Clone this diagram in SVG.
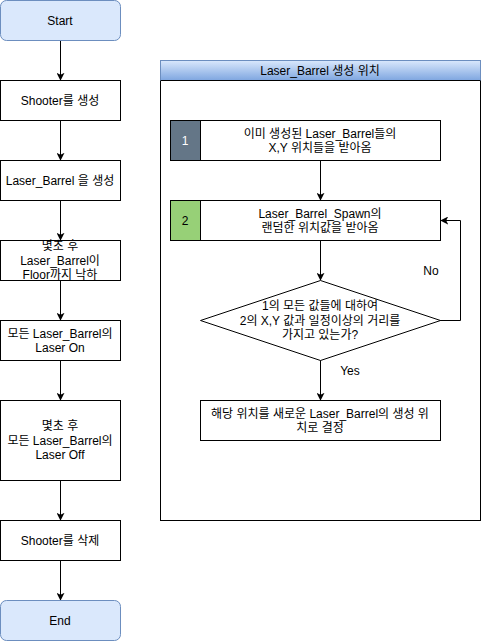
<svg xmlns="http://www.w3.org/2000/svg" width="481" height="641" viewBox="0 0 481 641">
<defs>
<linearGradient id="hdr" x1="0" y1="0" x2="0" y2="1">
<stop offset="0" stop-color="#dae8fc"/>
<stop offset="1" stop-color="#7ea6e0"/>
</linearGradient>
<marker id="arr" viewBox="0 0 10 10" refX="9" refY="5" markerWidth="8" markerHeight="8" markerUnits="userSpaceOnUse" orient="auto">
<path d="M0,0 L10,5 L0,10 L2.5,5 Z" fill="#000"/>
</marker>
</defs>
<style>
text{font-family:"Liberation Sans","Noto Sans CJK KR",Arial,sans-serif;font-size:12px;fill:#000;text-anchor:middle;dominant-baseline:central}
.box{fill:#fff;stroke:#000;stroke-width:1}
.term{fill:#dae8fc;stroke:#6c8ebf;stroke-width:1}
.edge{fill:none;stroke:#000;stroke-width:1;marker-end:url(#arr)}
</style>
<rect width="481" height="641" fill="#fff"/>
<g id="container">
<rect x="160.5" y="60.5" width="320" height="460" fill="#fff" stroke="#000"/>
<rect x="160.5" y="60.5" width="320" height="20" fill="url(#hdr)" stroke="#6c8ebf"/>
<path d="M160.5,80.5 H480.5" stroke="#000" fill="none"/>
<text x="320" y="71">Laser_Barrel 생성 위치</text>
</g>
<g id="connectors">
<path class="edge" d="M60.5,40 V80"/>
<path class="edge" d="M60.5,120 V160"/>
<path class="edge" d="M60.5,200 V240"/>
<path class="edge" d="M60.5,280 V320"/>
<path class="edge" d="M60.5,360 V400"/>
<path class="edge" d="M60.5,480 V520"/>
<path class="edge" d="M60.5,560 V600"/>
<path class="edge" d="M320.5,160 V200"/>
<path class="edge" d="M320.5,240 V280"/>
<path class="edge" d="M320.5,360 V400"/>
<path class="edge" d="M440,320.5 H460.5 V220.5 H441"/>
<text x="431" y="271">No</text>
<text x="350" y="371">Yes</text>
</g>
<g id="start"><rect class="term" x="0.5" y="0.5" width="120" height="40" rx="6"/><text x="60" y="20.5">Start</text></g>
<g id="create-shooter"><rect class="box" x="0.5" y="80.5" width="120" height="40"/><text x="60" y="100.5">Shooter를 생성</text></g>
<g id="create-barrel"><rect class="box" x="0.5" y="160.5" width="120" height="40"/><text x="60" y="180.5">Laser_Barrel 을 생성</text></g>
<g id="drop"><rect class="box" x="0.5" y="240.5" width="120" height="40"/><text x="60" y="246">몇초 후</text><text x="60" y="260.5">Laser_Barrel이</text><text x="60" y="275">Floor까지 낙하</text></g>
<g id="laser-on"><rect class="box" x="0.5" y="320.5" width="120" height="40"/><text x="60" y="333.5">모든 Laser_Barrel의</text><text x="60" y="348">Laser On</text></g>
<g id="laser-off"><rect class="box" x="0.5" y="400.5" width="120" height="80"/><text x="60" y="426">몇초 후</text><text x="60" y="440.5">모든 Laser_Barrel의</text><text x="60" y="455">Laser Off</text></g>
<g id="delete-shooter"><rect class="box" x="0.5" y="520.5" width="120" height="40"/><text x="60" y="540.5">Shooter를 삭제</text></g>
<g id="end"><rect class="term" x="0.5" y="600.5" width="120" height="40" rx="6"/><text x="60" y="620.5">End</text></g>
<g id="step1"><rect class="box" x="170.5" y="120.5" width="270" height="40"/><rect x="170.5" y="120.5" width="30" height="40" fill="#647687" stroke="#000"/><text x="185" y="140.5" style="fill:#fff">1</text><text x="320" y="133.5">이미 생성된 Laser_Barrel들의</text><text x="320" y="148">X,Y 위치들을 받아옴</text></g>
<g id="step2"><rect class="box" x="170.5" y="200.5" width="270" height="40"/><rect x="170.5" y="200.5" width="30" height="40" fill="#97d077" stroke="#000"/><text x="185" y="220.5">2</text><text x="320" y="213.5">Laser_Barrel_Spawn의</text><text x="320" y="228">랜덤한 위치값을 받아옴</text></g>
<g id="decision"><path d="M320.5,280.5 L440.5,320.5 L320.5,360.5 L200.5,320.5 Z" fill="#fff" stroke="#000"/><text x="320" y="306">1의 모든 값들에 대하여</text><text x="320" y="320.5">2의 X,Y 값과 일정이상의 거리를</text><text x="320" y="335">가지고 있는가?</text></g>
<g id="decide"><rect class="box" x="200.5" y="400.5" width="240" height="40"/><text x="320" y="413.5">해당 위치를 새로운 Laser_Barrel의 생성 위</text><text x="320" y="428">치로 결정</text></g>
</svg>
